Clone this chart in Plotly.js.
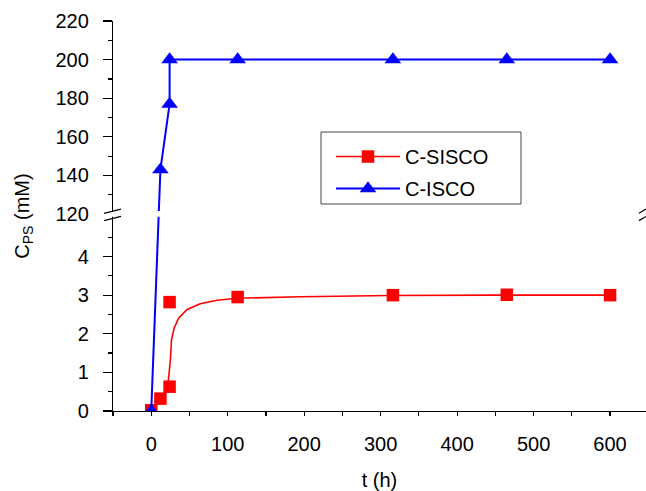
<!DOCTYPE html>
<html>
<head>
<meta charset="utf-8">
<script src="https://cdn.plot.ly/plotly-3.0.1.min.js"></script>
<style>
html,body{margin:0;padding:0;overflow:hidden;background:#fff;}
#chart{width:646px;height:491px;}
</style>
</head>
<body>
<div id="chart"></div>
<script>
// ---- data ----
const tSISCO = [0, 12, 24, 24, 113, 316, 465, 600];
const cSISCO = [0.02, 0.32, 0.63, 2.82, 2.95, 3.0, 3.01, 3.0];
const tFit = [22, 22.5, 25, 26.5, 30, 36, 47, 64, 86, 112, 195, 313, 450, 600];
const cFit = [0.6, 0.8, 1.32, 1.84, 2.15, 2.41, 2.63, 2.78, 2.87, 2.92, 2.96, 2.99, 3.0, 3.0];
const tISCO = [0, 12, 24, 24, 113, 316, 465, 600];
const cISCO = [0, 143, 177, 200, 200, 200, 200, 200];
const lowerTicks = [0, 1, 2, 3, 4];
const upperTicks = [120, 140, 160, 180, 200, 220];
const lowerMinor = [0.5, 1.5, 2.5, 3.5, 4.5];
const upperMinor = [130, 150, 170, 190, 210];
const seriesNames = ['C-SISCO', 'C-ISCO'];

// ---- broken axis mapping ----
const BREAK = 5.1;          // plotted position of 120 mM
const UPPER0 = 120, UPPER_PER_UNIT = 20;
function yMap(v) { return v <= BREAK ? v : BREAK + (v - UPPER0) / UPPER_PER_UNIT; }
const yTop = yMap(220);
const XR = [-50, 647];
const YR = [0, yTop];

const FAM = 'Liberation Sans, Arial, sans-serif';
const font = {family: FAM, size: 20, color: '#000'};

const traces = [
  {x: tFit, y: cFit.map(yMap), mode: 'lines', line: {color: '#ff0000', width: 1.6}, showlegend: false, hoverinfo: 'skip'},
  {x: tSISCO, y: cSISCO.map(yMap), mode: 'markers', marker: {symbol: 'square', size: 12.5, color: '#ff0000'}, showlegend: false},
  {x: [null], y: [null], mode: 'lines+markers', name: seriesNames[0], legendgroup: 'a', line: {color: '#ff0000', width: 1.6}, marker: {symbol: 'square', size: 12.5, color: '#ff0000'}},
  {x: tISCO, y: cISCO.map(yMap), mode: 'lines+markers', name: seriesNames[1], legendgroup: 'b', line: {color: '#0000ff', width: 2}, marker: {symbol: 'triangle-up', size: 14.5, color: '#0000ff'}}
];

const tickvals = lowerTicks.map(yMap).concat(upperTicks.map(yMap));
const ticktext = lowerTicks.map(String).concat(upperTicks.map(String));
const minorvals = lowerMinor.map(yMap).concat(upperMinor.map(yMap));

const ML = 113, MT = 21, MB = 80, W = 646 - ML, H = 491 - MT - MB;
const px = p => p / W;            // horizontal pixel offset -> paper fraction
const pxX = p => (p - ML) / W;    // absolute pixel x -> paper
const pxY = p => (MT + H - p) / H; // absolute pixel y -> paper

// break marks (paper x, data y)
const bY = yMap(120);
function slash(x0, x1, dy0, dy1) {
  return {type: 'line', xref: 'paper', yref: 'y', x0: x0, x1: x1, y0: bY + dy0, y1: bY + dy1, line: {color: '#000', width: 1.2}, layer: 'above'};
}
const shapes = [
  {type: 'rect', xref: 'paper', yref: 'y', x0: px(-10), x1: 1.0, y0: bY - 0.07, y1: bY + 0.08, fillcolor: '#ffffff', line: {width: 0}, layer: 'above'},
  slash(px(-9), px(8), 0.02, 0.13),
  slash(px(-9), px(8), -0.17, -0.06),
  slash(1 - px(7), 1, 0.02, 0.13),
  slash(1 - px(7), 1, -0.17, -0.06),
  // legend frame
  {type: 'rect', xref: 'paper', yref: 'paper', x0: pxX(321), x1: pxX(521), y0: pxY(204), y1: pxY(132), fillcolor: 'rgba(0,0,0,0)', line: {color: '#444', width: 1}, layer: 'above'}
];

const layout = {
  width: 646, height: 491,
  margin: {l: ML, r: 0, t: MT, b: MB},
  paper_bgcolor: '#fff', plot_bgcolor: '#fff',
  font: font,
  showlegend: true,
  legend: {x: pxX(331), y: pxY(137), xanchor: 'left', yanchor: 'top', bgcolor: 'rgba(0,0,0,0)', borderwidth: 0, font: {family: FAM, size: 20, color: '#000'}, itemwidth: 64, tracegroupgap: 3},
  xaxis: {
    range: XR, showgrid: false, zeroline: false, showline: true, linecolor: '#000', linewidth: 1.2,
    ticks: 'outside', ticklen: 4, tickwidth: 1.2, tickcolor: '#000', tickmode: 'linear', tick0: 0, dtick: 100,
    minor: {ticks: 'outside', ticklen: 4, tickwidth: 1.2, tickcolor: '#000', tickmode: 'linear', tick0: 0, dtick: 50, showgrid: false},
    ticklabelstandoff: 11, tickfont: font,
    title: {text: 't (h)', font: font, standoff: 26}
  },
  xaxis2: {
    range: XR, overlaying: 'x', side: 'top', anchor: 'y', showgrid: false, zeroline: false, showline: true, linecolor: '#000', linewidth: 1.2,
    ticks: 'inside', ticklen: 8, tickwidth: 1.2, tickcolor: '#000', tickmode: 'linear', tick0: 0, dtick: 50, showticklabels: false
  },
  yaxis: {
    range: YR, showgrid: false, zeroline: false, showline: true, linecolor: '#000', linewidth: 1.2,
    ticks: 'outside', ticklen: 9, tickwidth: 1.2, tickcolor: '#000', tickmode: 'array', tickvals: tickvals, ticktext: ticktext,
    minor: {ticks: 'outside', ticklen: 4, tickwidth: 1.2, tickcolor: '#000', tickmode: 'array', tickvals: minorvals, showgrid: false},
    ticklabelstandoff: 10, tickfont: font,
    title: {text: 'C<sub>PS</sub> (mM)', font: font, standoff: 20}
  },
  yaxis2: {
    range: YR, overlaying: 'y', side: 'left', anchor: 'x', showgrid: false, zeroline: false, showline: false,
    ticks: 'inside', ticklen: 5, tickwidth: 1.2, tickcolor: '#000', tickmode: 'array', tickvals: tickvals, showticklabels: false,
    minor: {ticks: 'inside', ticklen: 4, tickwidth: 1.2, tickcolor: '#000', tickmode: 'array', tickvals: minorvals, showgrid: false}
  },
  yaxis3: {
    range: YR, overlaying: 'y', side: 'right', anchor: 'x', showgrid: false, zeroline: false, showline: true, linecolor: '#000', linewidth: 1.2,
    ticks: 'inside', ticklen: 7, tickwidth: 1.2, tickcolor: '#000', tickmode: 'array', tickvals: tickvals, showticklabels: false,
    minor: {ticks: 'inside', ticklen: 3, tickwidth: 1.2, tickcolor: '#000', tickmode: 'array', tickvals: minorvals, showgrid: false}
  },
  shapes: shapes
};

Plotly.newPlot('chart', traces, layout, {displayModeBar: false, staticPlot: true});
</script>
</body>
</html>
